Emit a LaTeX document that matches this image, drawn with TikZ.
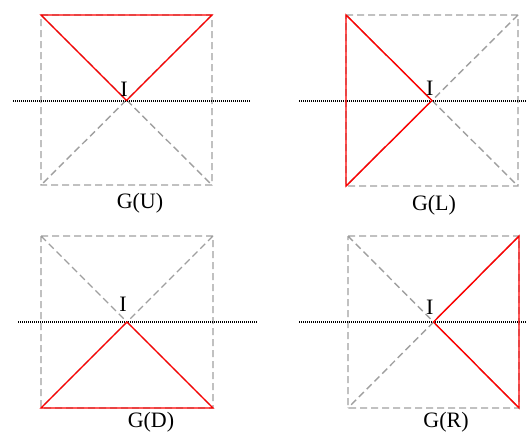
\documentclass[tikz,border=0pt]{standalone}
\usepackage{fontspec}
\setmainfont{Liberation Serif}
\usetikzlibrary{positioning}

\begin{document}
\begin{tikzpicture}[x=1pt, y=-1pt,
    frame/.style={draw=gray!75, dash pattern=on 7pt off 4pt, line width=1.4pt},
    tri/.style={draw=red, line width=1.4pt, line join=miter},
    axis/.style={draw=black, dash pattern=on 1pt off 1pt, line width=1.1pt},
    every node/.style={font=\fontsize{22}{26}\selectfont, inner sep=0pt}
  ]
    \useasboundingbox (0,0) rectangle (527,434);

    % G(U)
    \coordinate (u1) at (41,15);   \coordinate (u2) at (212,15);
    \coordinate (u3) at (212,185); \coordinate (u4) at (41,185);
    \coordinate (uc) at (126.5,100.5);
    \coordinate (ua) at (13,101);  \coordinate (ub) at (251,101);
    \draw[frame] (u1) -- (u2) -- (u3) -- (u4) -- cycle (u1) -- (u3) (u2) -- (u4);
    \draw[axis] (ua) -- (ub);
    \draw[tri] (u1) -- (u2) -- (uc) -- cycle;
    \node (iu) at (124,89) {I};
    \node (gu) at (140,203) {G(U)};

    % G(L)
    \coordinate (l1) at (346,15);  \coordinate (l2) at (518,15);
    \coordinate (l3) at (518,186); \coordinate (l4) at (346,186);
    \coordinate (lc) at (432,100.5);
    \coordinate (la) at (299,101); \coordinate (lb) at (527,101);
    \draw[frame] (l1) -- (l2) -- (l3) -- (l4) -- cycle (l1) -- (l3) (l2) -- (l4);
    \draw[axis] (la) -- (lb);
    \draw[tri] (l1) -- (lc) -- (l4) -- cycle;
    \node (il) at (429.7,88) {I};
    \node (gl) at (434,205) {G(L)};

    % G(D)
    \coordinate (d1) at (41,236);  \coordinate (d2) at (213,236);
    \coordinate (d3) at (213,408); \coordinate (d4) at (41,408);
    \coordinate (dc) at (127,322);
    \coordinate (da) at (18,322);  \coordinate (db) at (257,322);
    \draw[frame] (d1) -- (d2) -- (d3) -- (d4) -- cycle (d1) -- (d3) (d2) -- (d4);
    \draw[axis] (da) -- (db);
    \draw[tri] (d4) -- (dc) -- (d3) -- cycle;
    \node (id) at (123,304) {I};
    \node (gd) at (151,422) {G(D)};

    % G(R)
    \coordinate (r1) at (348,236); \coordinate (r2) at (519,236);
    \coordinate (r3) at (519,408); \coordinate (r4) at (348,408);
    \coordinate (rc) at (433.5,322);
    \coordinate (ra) at (299,322); \coordinate (rb) at (527,322);
    \draw[frame] (r1) -- (r2) -- (r3) -- (r4) -- cycle (r1) -- (r3) (r2) -- (r4);
    \draw[axis] (ra) -- (rb);
    \draw[tri] (r2) -- (rc) -- (r3) -- cycle;
    \node (ir) at (429.7,307.5) {I};
    \node (gr) at (446,422) {G(R)};
  \end{tikzpicture}
\end{document}
